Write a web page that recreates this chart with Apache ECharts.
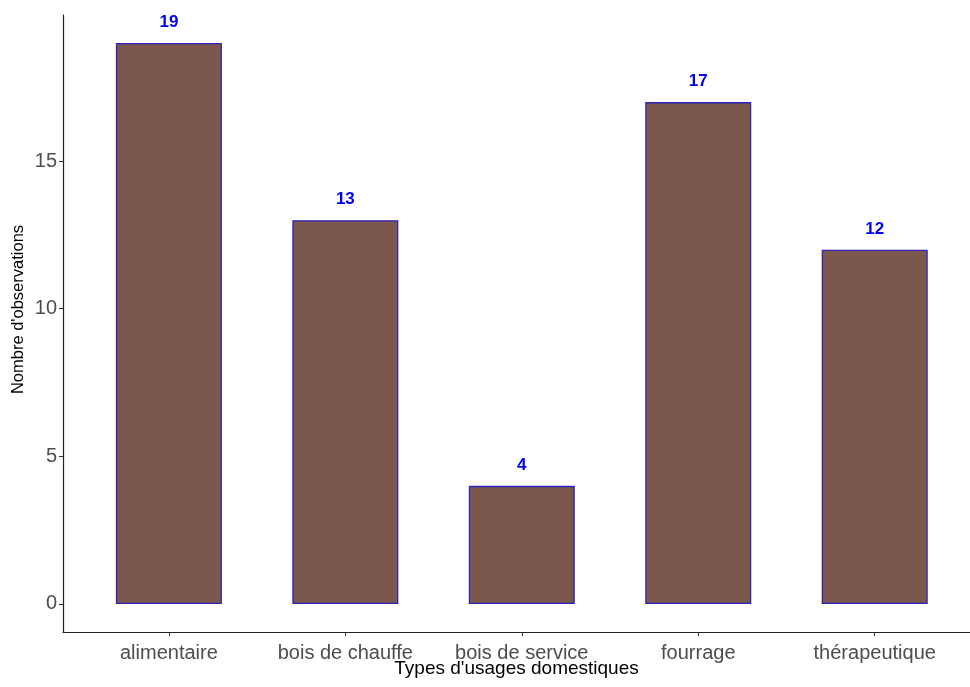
<!DOCTYPE html>
<html>
<head>
<meta charset="utf-8">
<script src="https://cdn.jsdelivr.net/npm/echarts@6/dist/echarts.min.js"></script>
<style>
  html, body { margin: 0; padding: 0; background: #fff; }
  #chart { width: 970px; height: 687px; }
</style>
</head>
<body>
<div id="chart"></div>
<script>
// Types of domestic uses and number of observations for each
const categories = ['alimentaire', 'bois de chauffe', 'bois de service', 'fourrage', 'thérapeutique'];
const observations = [19, 13, 4, 17, 12];
const yTicks = [0, 5, 10, 15];

// Positions 1..n on a numeric x axis so the categories sit evenly with padding on both sides
const positions = categories.map((_, i) => i + 1);
const barData = observations.map((v, i) => [positions[i], v]);

const chart = echarts.init(document.getElementById('chart'));
chart.setOption({
  animation: false,
  backgroundColor: '#ffffff',
  grid: { left: 63, top: 15, right: 0, height: 617, outerBoundsMode: 'none', containLabel: false },
  xAxis: {
    type: 'value',
    min: 0.4,
    max: 5.54,
    name: "Types d'usages domestiques",
    nameLocation: 'middle',
    nameMoveOverlap: false,
    nameGap: 27,
    nameTextStyle: { color: '#000', fontSize: 19, fontFamily: 'Liberation Sans', verticalAlign: 'top' },
    axisLine: { show: true, onZero: false, lineStyle: { color: '#222', width: 1.2 } },
    axisTick: { show: true, length: 4, customValues: positions, lineStyle: { color: '#333' } },
    axisLabel: {
      customValues: positions,
      formatter: v => categories[Math.round(v) - 1] || '',
      color: '#4d4d4d', fontSize: 20, fontFamily: 'Liberation Sans', margin: 11
    },
    splitLine: { show: false }
  },
  yAxis: {
    type: 'value',
    min: -0.95,
    max: 19.95,
    name: "Nombre d'observations",
    nameLocation: 'middle',
    nameMoveOverlap: false,
    nameGap: 36,
    nameTextStyle: { color: '#000', fontSize: 16.5, fontFamily: 'Liberation Sans', padding: [0, 0, 0, 28] },
    axisLine: { show: true, onZero: false, lineStyle: { color: '#222', width: 1.2 } },
    axisTick: { show: true, length: 4, customValues: yTicks, lineStyle: { color: '#333' } },
    axisLabel: {
      customValues: yTicks,
      color: '#4d4d4d', fontSize: 20, fontFamily: 'Liberation Sans', margin: 6
    },
    splitLine: { show: false }
  },
  series: [{
    type: 'bar',
    data: barData,
    barWidth: 106,
    itemStyle: { color: '#7b574c', borderColor: '#2f22bd', borderWidth: 1.3 },
    label: {
      show: true,
      position: 'top',
      distance: 12,
      formatter: p => p.value[1],
      color: '#0000ee',
      fontWeight: 'bold',
      fontSize: 17,
      fontFamily: 'Liberation Sans'
    }
  }]
});
</script>
</body>
</html>
